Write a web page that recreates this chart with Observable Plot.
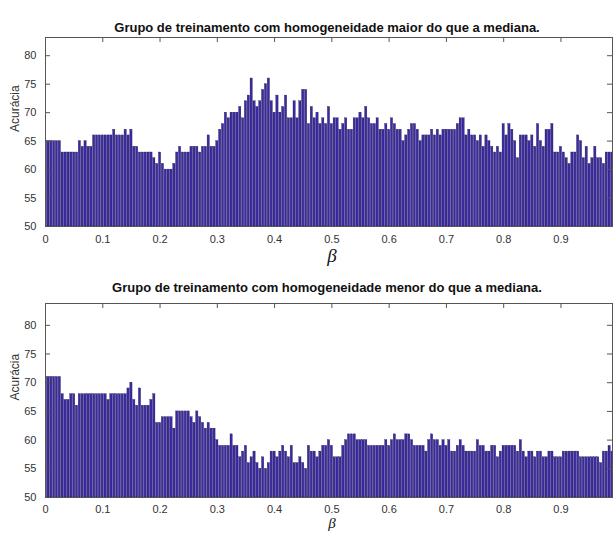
<!DOCTYPE html>
<html>
<head>
<meta charset="utf-8">
<script src="https://cdn.jsdelivr.net/npm/d3@7"></script>
<script src="https://cdn.jsdelivr.net/npm/@observablehq/plot@0.6"></script>
<style>
  html, body { margin: 0; padding: 0; background: #fff; }
  #chart svg { display: block; }
</style>
</head>
<body>
<div id="chart"></div>
<script>
// beta grid: 0, 0.005, ..., 0.99
const betaStep = 0.005;
const betas = d3.range(199).map(i => Math.round(i * betaStep * 1000) / 1000);

const titleTop = "Grupo de treinamento com homogeneidade maior do que a mediana.";
const titleBottom = "Grupo de treinamento com homogeneidade menor do que a mediana.";
const yLabel = "Acurácia";
const xLabel = "β";
const xTicks = [0, 0.1, 0.2, 0.3, 0.4, 0.5, 0.6, 0.7, 0.8, 0.9];
const yTicks = [50, 55, 60, 65, 70, 75, 80];

const accTop = [
  65,65,65,65,65,65,63,63,63,63, 63,63,65,64,65,64,64,66,66,66,
  66,66,66,66,67,66,66,66,67,66, 67,64,64,63,63,63,63,63,62,61,
  63,61,60,60,60,61,63,64,63,63, 63,64,64,64,63,64,64,66,64,64,
  65,67,68,70,69,70,70,70,71,69, 72,73,76,72,71,72,74,75,76,72,
  70,73,70,71,73,69,69,72,69,72, 74,74,68,71,69,70,68,69,68,71,
  68,69,69,67,68,69,67,67,69,69, 70,69,71,69,68,68,69,67,67,68,
  67,69,68,67,67,65,66,67,68,68, 67,65,66,66,66,67,66,67,66,67,
  67,67,67,67,68,69,69,66,67,66, 66,65,66,64,66,65,64,63,64,63,
  68,66,68,67,65,62,66,66,66,65, 66,64,68,65,64,67,67,68,63,63,
  64,63,62,61,63,63,66,65,62,64, 61,62,64,62,62,61,63,63,63
];

const accBottom = [
  71,71,71,71,71,71,68,67,67,68, 68,66,68,68,68,68,68,68,68,68,
  68,68,67,68,68,68,68,68,68,69, 70,67,66,69,66,66,66,67,68,63,
  63,64,64,64,64,62,65,65,65,65, 65,64,63,65,64,63,62,63,62,62,
  60,59,59,59,59,61,59,59,57,58, 59,56,57,58,56,55,57,55,56,58,
  58,57,58,59,58,57,59,56,56,57, 56,55,59,58,58,57,58,59,59,60,
  59,57,57,57,59,60,61,61,61,60, 60,60,60,59,59,59,59,59,59,60,
  59,60,61,60,60,60,61,61,60,59, 59,59,59,58,60,61,60,60,59,60,
  59,60,58,58,59,60,59,58,58,58, 58,60,59,59,58,58,59,59,57,58,
  59,59,59,59,59,58,60,58,57,58, 58,57,58,58,57,57,58,58,57,57,
  57,58,58,58,58,58,58,57,57,57, 57,57,57,57,56,58,58,59,58
];

const barFill = "#3a2b9e";
const barStroke = "#1c1450";
const axisColor = "#555";
const textColor = "#333";
const font = "'Liberation Sans', Arial, sans-serif";

function panel({values, title, height, marginTop, marginBottom, yMax, titleDy, betaDy, betaSize, tickPad}) {
  const W = 613, mL = 45, mR = 1;
  const frameW = W - mL - mR;
  const frameH = height - marginTop - marginBottom;
  const data = betas.map((b, i) => ({beta: b, acc: values[i]}));
  return Plot.plot({
    width: W,
    height,
    marginLeft: mL,
    marginRight: mR,
    marginTop,
    marginBottom,
    style: {fontFamily: font, background: "#fff", overflow: "visible"},
    x: {domain: [0, 0.99], label: null},
    y: {domain: [50, yMax], label: null},
    marks: [
      Plot.rectY(data, {
        x1: d => d.beta - 0.4 * betaStep,
        x2: d => d.beta + 0.4 * betaStep,
        y1: 50,
        y2: "acc",
        fill: barFill,
        stroke: barStroke,
        strokeWidth: 0.3,
        clip: true
      }),
      Plot.frame({stroke: axisColor, strokeWidth: 1}),
      // inward ticks: left, right, top
      Plot.tickY(yTicks, {y: d => d, insetRight: frameW - 5, stroke: axisColor}),
      Plot.tickY(yTicks, {y: d => d, insetLeft: frameW - 5, stroke: axisColor}),
      Plot.tickX(xTicks, {x: d => d, insetBottom: frameH - 5, stroke: axisColor}),
      Plot.axisY(yTicks, {anchor: "left", tickSize: 0, tickPadding: 9, fontSize: 11, fill: textColor, tickFormat: d => String(d), label: null}),
      Plot.axisX(xTicks, {anchor: "bottom", tickSize: 0, tickPadding: tickPad, fontSize: 11, fill: textColor, tickFormat: d => String(d), label: null}),
      Plot.text([title], {frameAnchor: "top", text: d => d, dy: titleDy, dx: -2, fontSize: 13, fontWeight: "bold", fill: "#111"}),
      Plot.text([yLabel], {frameAnchor: "left", text: d => d, rotate: -90, dx: -30, fontSize: 12, fill: textColor}),
      Plot.text([xLabel], {frameAnchor: "bottom", text: d => d, dy: betaDy, dx: 3, fontSize: betaSize, fontStyle: "italic", fontFamily: "'Liberation Serif', 'DejaVu Serif', serif", fill: "#111"})
    ]
  });
}

const chart = document.getElementById("chart");
chart.appendChild(panel({values: accTop, title: titleTop, height: 270, marginTop: 37, marginBottom: 44, yMax: 83.2, titleDy: -15, betaDy: 35, betaSize: 19, tickPad: 9}));
chart.appendChild(panel({values: accBottom, title: titleBottom, height: 266, marginTop: 33, marginBottom: 39, yMax: 83.8, titleDy: -21, betaDy: 30, betaSize: 15, tickPad: 8}));
</script>
</body>
</html>
